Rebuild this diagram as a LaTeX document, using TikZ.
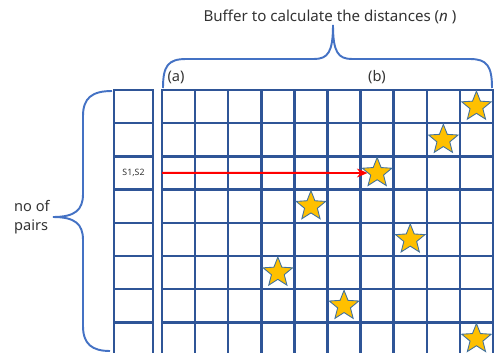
\documentclass[tikz,border=0pt]{standalone}
\usepackage{fontspec}
\setmainfont{Noto Sans}
\usetikzlibrary{arrows.meta,shapes.geometric}

\definecolor{gridblue}{HTML}{2F5597}
\definecolor{braceblue}{HTML}{4472C4}
\definecolor{stargold}{HTML}{FFC000}
\definecolor{staredge}{HTML}{41719C}

\tikzset{
  cellline/.style={draw=gridblue, line width=1.4pt},
  bracepath/.style={braceblue, line width=1.1pt},
  goldstar/.style={star, star points=5, star point ratio=2.3, minimum size=0.62cm,
    inner sep=0pt, fill=stargold, draw=staredge, line width=0.5pt},
  redarrow/.style={-{Stealth[length=6pt, width=5pt]}, red, line width=1.1pt}
}

\begin{document}
\begin{tikzpicture}[x=0.02cm, y=-0.02cm, every node/.style={font=\fontsize{8.3}{10.8}\selectfont, text=black!80}]

  \useasboundingbox (0,0) rectangle (494,352);
  \clip (0,0) rectangle (494,352);

  %% Left: column of pairs
  \foreach \r in {0,...,8}
    \draw[cellline] (114,{90+33.2*\r}) rectangle (153,{123.2+33.2*\r});
  \node[font=\fontsize{5}{6}\selectfont] (s12) at (133.5,173) {S1,S2};

  %% Center: distance buffer
  \foreach \c in {0,...,9}
    \foreach \r in {0,...,8}
      \draw[cellline] ({162+33.1*\c},{90+33.2*\r}) rectangle ({195.1+33.1*\c},{123.2+33.2*\r});

  % stars, one per row
  \foreach \c [count=\r from 0] in {9,8,6,4,7,3,5,9}
    \node[goldstar] (st\r) at ({178.55+33.1*\c},{106.6+33.2*\r}) {};

  % search arrow
  \coordinate (p0) at (162,172.8);
  \draw[redarrow] (p0) -- (st2.west);

  %% Top: brace and labels
  \draw[bracepath] (163,88) .. controls (163,66) and (168,59) .. (186,59) -- (314,59)
    .. controls (328,59) and (333,52) .. (333,25)
    .. controls (333,52) and (338,59) .. (352,59) -- (470,59)
    .. controls (487,59) and (492,66) .. (492,88);
  \node[font=\fontsize{8.6}{10.8}\selectfont] (title) at (330,17) {Buffer to calculate the distances (\textit{n} )};
  \node (lbla) at (176,77) {(a)};
  \node (lblb) at (377,77) {(b)};

  %% Left: brace and label
  \draw[bracepath] (112,91) .. controls (92,91) and (83,98) .. (83,116) -- (83,194)
    .. controls (83,210) and (75,217) .. (53,217)
    .. controls (75,217) and (83,224) .. (83,240) -- (83,326)
    .. controls (83,344) and (92,351) .. (110,351);
  \node[align=left, anchor=west] (pairs) at (8,217) {no of\\pairs};

\end{tikzpicture}
\end{document}
